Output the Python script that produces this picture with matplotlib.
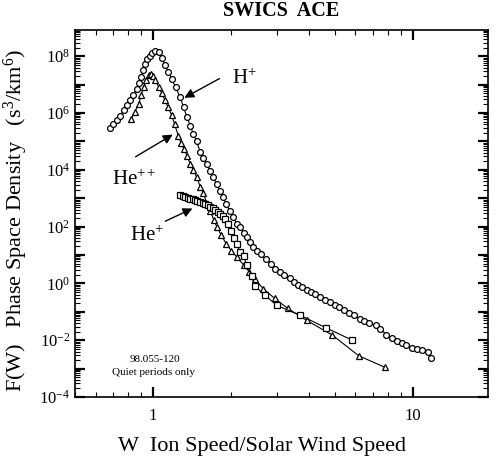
import numpy as np
import matplotlib
matplotlib.use("Agg")
import matplotlib.pyplot as plt
from matplotlib.ticker import FixedLocator, FuncFormatter, NullFormatter

plt.rcParams["font.family"] = ["Liberation Serif", "DejaVu Serif"]
plt.rcParams["mathtext.fontset"] = "custom"
plt.rcParams["mathtext.rm"] = "Liberation Serif"
plt.rcParams["mathtext.it"] = "Liberation Serif:italic"

# H+ (circles): W, log10 F
h_w = [0.684, 0.70, 0.725, 0.745, 0.77, 0.79, 0.815, 0.84, 0.866, 0.88, 0.897,
       0.915, 0.93, 0.95, 0.97, 0.99, 1.02, 1.05, 1.08, 1.11, 1.145, 1.18, 1.22,
       1.27, 1.31, 1.35, 1.39, 1.43, 1.47, 1.52, 1.56, 1.61, 1.66, 1.70, 1.76,
       1.81, 1.86, 1.91, 1.97, 2.03, 2.10, 2.16, 2.23, 2.29, 2.36, 2.43, 2.51,
       2.60, 2.73, 2.85, 2.95, 3.08, 3.20, 3.36, 3.50, 3.62, 3.75, 3.90, 4.05,
       4.20, 4.40, 4.60, 4.80, 5.00, 5.20, 5.45, 5.70, 5.95, 6.25, 6.50, 6.80,
       7.20, 7.50, 7.90, 8.30, 8.70, 9.10, 9.45, 9.90, 10.4, 10.9, 11.4, 11.8]
h_logf = [5.49, 5.60, 5.75, 5.90, 6.10, 6.28, 6.45, 6.65, 6.86, 7.05, 7.27,
          7.50, 7.72, 7.90, 8.02, 8.12, 8.19, 8.14, 7.95, 7.70, 7.45, 7.20, 6.90,
          6.57, 6.20, 5.86, 5.55, 5.25, 5.00, 4.62, 4.40, 4.20, 3.95, 3.75, 3.50,
          3.25, 3.03, 2.81, 2.55, 2.33, 2.10, 1.98, 1.78, 1.62, 1.45, 1.30, 1.15,
          1.02, 0.85, 0.68, 0.52, 0.40, 0.30, 0.20, 0.06, -0.04, -0.12, -0.22, -0.30,
          -0.36, -0.47, -0.58, -0.67, -0.75, -0.83, -0.93, -1.03, -1.12, -1.24, -1.32, -1.40,
          -1.47, -1.60, -1.80, -1.92, -2.02, -2.10, -2.18, -2.27, -2.31, -2.35, -2.41, -2.64]

# He++ (triangles)
he2_w = [0.82, 0.85, 0.88, 0.90, 0.92, 0.94, 0.96, 0.98, 1.00, 1.02, 1.05,
         1.08, 1.11, 1.14, 1.18, 1.21, 1.25, 1.28, 1.31, 1.35, 1.39, 1.43, 1.47,
         1.52, 1.56, 1.61, 1.66, 1.71, 1.76, 1.83, 1.91, 2.00, 2.10, 2.23, 2.35,
         2.47, 2.65, 2.94, 3.30, 3.90, 4.90, 6.20, 7.80]
he2_logf = [5.78, 6.04, 6.33, 6.63, 6.92, 7.15, 7.33, 7.39, 7.30, 7.15, 6.92,
            6.69, 6.45, 6.22, 5.92, 5.60, 5.20, 4.95, 4.75, 4.50, 4.20, 3.99, 3.75,
            3.40, 3.20, 2.81, 2.55, 2.25, 1.99, 1.70, 1.40, 1.15, 0.93, 0.65, 0.40,
            0.15, -0.18, -0.53, -0.88, -1.30, -1.82, -2.55, -2.95]

# He+ (squares)
he1_w = [1.27, 1.30, 1.33, 1.36, 1.39, 1.42, 1.45, 1.48, 1.52, 1.55, 1.58,
         1.62, 1.66, 1.70, 1.73, 1.77, 1.81, 1.85, 1.89, 1.95, 2.00, 2.05, 2.10,
         2.16, 2.23, 2.30, 2.40, 2.47, 2.70, 2.99, 3.68, 4.65, 5.85]
he1_logf = [3.10, 3.07, 3.05, 3.02, 2.99, 2.96, 2.93, 2.90, 2.87, 2.84, 2.80,
            2.75, 2.70, 2.64, 2.58, 2.52, 2.46, 2.37, 2.28, 2.10, 1.85, 1.60, 1.40,
            1.10, 0.95, 0.65, 0.25, -0.10, -0.42, -0.77, -1.12, -1.57, -2.00]

fig = plt.figure(figsize=(4.98, 4.63), dpi=100)
ax = fig.add_axes([0.1506, 0.1425, 0.8294, 0.7925])

line_kw = dict(color="black", lw=0.8, mfc="white", mec="black", mew=0.9)
ax.plot(h_w, 10.0 ** np.array(h_logf), marker="o", ms=4.2, **line_kw)
ax.plot(he2_w, 10.0 ** np.array(he2_logf), marker="^", ms=5.0, **line_kw)
ax.plot(he1_w, 10.0 ** np.array(he1_logf), marker="s", ms=4.6, **line_kw)

ax.set_xscale("log")
ax.set_yscale("log")
ax.set_xlim(0.5, 19.5)
ax.set_ylim(1e-4, 10 ** 8.92)

ax.xaxis.set_major_locator(FixedLocator([1, 10]))
ax.xaxis.set_major_formatter(FuncFormatter(lambda v, p: "%g" % v))
xminor = [m * d for d in (0.1, 1, 10) for m in range(2, 10)]
ax.xaxis.set_minor_locator(FixedLocator(xminor))
ax.xaxis.set_minor_formatter(NullFormatter())

ax.yaxis.set_major_locator(FixedLocator([10.0 ** k for k in range(-4, 9)]))
ax.yaxis.set_major_formatter(FuncFormatter(
    lambda v, p: (r"$10^{%d}$" % round(np.log10(v))) if round(np.log10(v)) % 2 == 0 else ""))
yminor = [m * 10.0 ** k for k in range(-4, 9) for m in range(2, 10)]
ax.yaxis.set_minor_locator(FixedLocator(yminor))
ax.yaxis.set_minor_formatter(NullFormatter())

ax.tick_params(which="both", direction="in", top=True, right=True, labelsize=12)
ax.tick_params(which="major", length=7, width=1.6)
ax.tick_params(which="minor", length=3.5, width=0.8)
ax.tick_params(axis="x", pad=8)
for s in ax.spines.values():
    s.set_linewidth(1.2)

ax.set_title("SWICS  ACE", fontsize=14.5, fontweight="bold", pad=10)
ax.set_xlabel("W  Ion Speed/Solar Wind Speed", fontsize=16, labelpad=8)
ax.xaxis.set_label_coords(0.453, -0.11)
ax.set_ylabel(r"F(W)   Phase Space Density   (s$^3$/km$^6$)", fontsize=16)
ax.yaxis.set_label_coords(-0.108, 0.48)

arrow = dict(arrowstyle="-|>", color="black", lw=1.0, mutation_scale=14)
ax.annotate("", xy=(1.29, 10 ** 6.49), xytext=(1.84, 10 ** 7.26), arrowprops=arrow)
ax.text(2.01, 10 ** 7.19, r"H$^{+}$", fontsize=15, va="center", ha="left")
ax.annotate("", xy=(1.215, 10 ** 5.29), xytext=(0.838, 10 ** 4.41), arrowprops=arrow)
ax.text(0.696, 10 ** 3.63, r"He$^{++}$", fontsize=15, va="center", ha="left")
ax.annotate("", xy=(1.45, 10 ** 2.68), xytext=(1.09, 10 ** 2.15), arrowprops=arrow)
ax.text(0.816, 10 ** 1.66, r"He$^{+}$", fontsize=15, va="center", ha="left")

ax.text(1.02, 10 ** -2.67, "98.055-120", fontsize=8, ha="center", va="center")
ax.text(1.0, 10 ** -3.13, "Quiet periods only", fontsize=8, ha="center", va="center")

fig.savefig("out.png", dpi=100)
